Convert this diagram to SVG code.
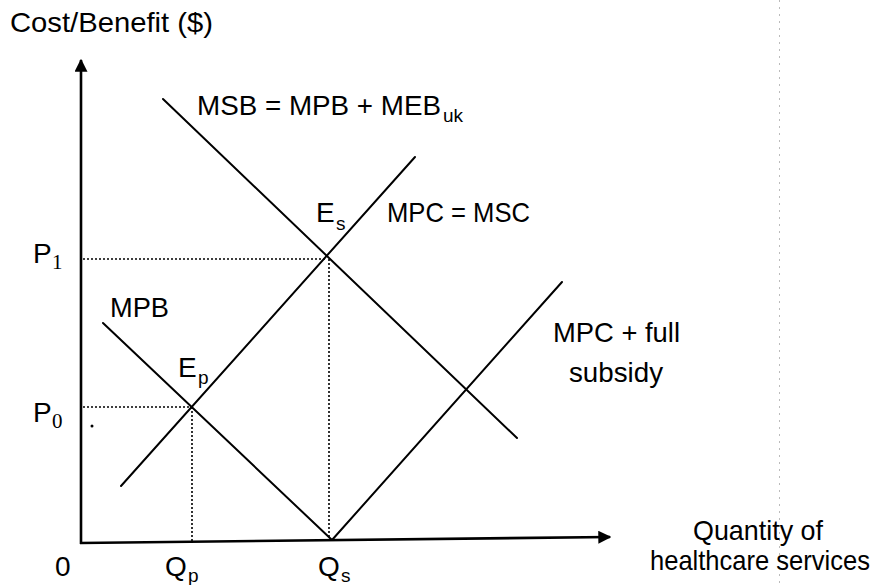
<svg xmlns="http://www.w3.org/2000/svg" width="879" height="585" viewBox="0 0 879 585">
<style>
.t{font-family:"Liberation Sans","Noto Sans",Arial,sans-serif;font-size:28px;fill:#000}
.sub{font-family:"Liberation Sans","Noto Sans",Arial,sans-serif;font-size:19px;fill:#000}
.subn{font-family:"Liberation Serif","DejaVu Serif",serif;font-size:21px;fill:#000}
.ax{stroke:#000;stroke-width:2.6;fill:none}
.cv{stroke:#000;stroke-width:2;fill:none;stroke-linecap:round}
.dot{stroke:#000;stroke-width:1.6;fill:none;stroke-dasharray:2 2}
</style>
<defs>
<marker id="arr" viewBox="0 0 10 10" refX="9" refY="5" markerWidth="5" markerHeight="5" orient="auto" markerUnits="strokeWidth">
<path d="M0,0 L10,5 L0,10 z" fill="#000"/>
</marker>
</defs>
<rect width="879" height="585" fill="#fff"/>
<line x1="779.500" y1="0" x2="779.500" y2="585" stroke="#bbb" stroke-width="1" stroke-dasharray="2 5"/>
<g id="connectors">
<g id="axes">
<line class="ax" x1="81" y1="544" x2="81" y2="60" marker-end="url(#arr)"/>
<line class="ax" x1="80" y1="543" x2="610" y2="537" marker-end="url(#arr)"/>
</g>
<g id="guides">
<line class="dot" x1="83" y1="259" x2="327" y2="259"/>
<line class="dot" x1="83" y1="407" x2="192" y2="407"/>
<line class="dot" x1="192" y1="407" x2="192" y2="541"/>
<line class="dot" x1="329" y1="259" x2="329" y2="540"/>
</g>
<g id="MSB"><line class="cv" x1="163" y1="99" x2="517" y2="438"/></g>
<g id="MPC"><line class="cv" x1="121" y1="486" x2="415" y2="157"/></g>
<g id="MPB"><line class="cv" x1="103" y1="323" x2="332" y2="540"/></g>
<g id="MPCsub"><line class="cv" x1="332" y1="540" x2="562" y2="282"/></g>
</g>
<g id="labels">
<text class="t" x="10" y="32" textLength="203" lengthAdjust="spacingAndGlyphs">Cost/Benefit ($)</text>
<text class="t" x="197" y="115" textLength="244" lengthAdjust="spacingAndGlyphs">MSB = MPB + MEB</text>
<text class="sub" x="443" y="122">uk</text>
<text class="t" x="316" y="222">E</text>
<text class="sub" x="336" y="230">s</text>
<text class="t" x="387" y="222" textLength="143" lengthAdjust="spacingAndGlyphs">MPC = MSC</text>
<text class="t" x="33" y="263">P</text>
<text class="subn" x="52" y="269">1</text>
<text class="t" x="110" y="317" textLength="59" lengthAdjust="spacingAndGlyphs">MPB</text>
<text class="t" x="178" y="377">E</text>
<text class="sub" x="198" y="384">p</text>
<text class="t" x="33" y="422">P</text>
<text class="subn" x="52" y="428">0</text>
<circle cx="92" cy="426" r="1.5" fill="#000"/>
<text class="t" x="553" y="342" textLength="127" lengthAdjust="spacingAndGlyphs">MPC + full</text>
<text class="t" x="569" y="382" textLength="94" lengthAdjust="spacingAndGlyphs">subsidy</text>
<text class="t" x="55" y="576">0</text>
<text class="t" x="165" y="576">Q</text>
<text class="sub" x="188" y="582">p</text>
<text class="t" x="318" y="576">Q</text>
<text class="sub" x="341" y="582">s</text>
<text class="t" x="693" y="540" textLength="130" lengthAdjust="spacingAndGlyphs">Quantity of</text>
<text class="t" x="650" y="570" textLength="220" lengthAdjust="spacingAndGlyphs">healthcare services</text>
</g>
</svg>
